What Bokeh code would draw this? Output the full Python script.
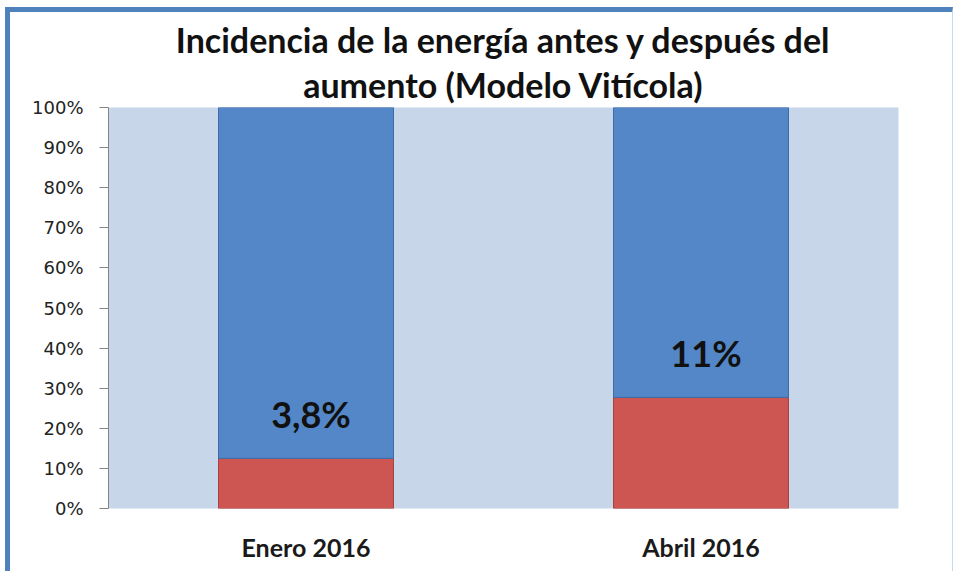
from bokeh.plotting import figure
from bokeh.models import ColumnDataSource, FactorRange, Range1d, FixedTicker, NumeralTickFormatter, Title
from bokeh.core.properties import value
from bokeh.embed import file_html
from bokeh.resources import INLINE

# ---- data ----
categories = ["Enero 2016", "Abril 2016"]
energia = [0.125, 0.277]          # red (lower) share
resto = [0.875, 0.723]            # blue (upper) share
data_labels = ["3,8%", "11%"]
y_ticks = [0.0, 0.1, 0.2, 0.3, 0.4, 0.5, 0.6, 0.7, 0.8, 0.9, 1.0]
title_lines = ["Incidencia de la energía antes y después del", "aumento (Modelo Vitícola)"]

src = ColumnDataSource(dict(cat=categories, energia=energia, resto=resto))

p = figure(
    x_range=FactorRange(*categories, range_padding=0),
    y_range=Range1d(0, 1),
    width=948, height=564,
    output_backend="svg", toolbar_location=None,
    min_border_left=98, min_border_right=60, min_border_top=95, min_border_bottom=68,
)
p.styles = {"margin-left": "5px", "margin-top": "7px",
            "border-left": "5px solid #4f81bd", "border-top": "5px solid #4f81bd",
            "border-right": "1px solid #c6d9f0"}

p.background_fill_color = "#c7d6e9"
p.border_fill_color = "white"
p.outline_line_color = None
p.xgrid.grid_line_color = None
p.ygrid.grid_line_color = None

p.vbar_stack(["energia", "resto"], x="cat", width=0.443, source=src,
             color=["#cd5552", "#5487c7"], line_color=["#a8423f", "#3e6ca6"], line_width=1)

label_y = [e + 0.11 for e in energia]
p.text(x=categories, y=label_y, text=data_labels, x_offset=5,
       text_font=value("Lato"), text_font_style="bold", text_font_size="36px",
       text_align="center", text_baseline="middle", text_color="#111111")

# y axis
p.yaxis.ticker = FixedTicker(ticks=y_ticks)
p.yaxis.formatter = NumeralTickFormatter(format="0%")
p.yaxis.axis_line_color = "#868686"
p.yaxis.major_tick_line_color = "#868686"
p.yaxis.major_tick_out = 9
p.yaxis.major_tick_in = 0
p.yaxis.minor_tick_line_color = None
p.yaxis.major_label_text_font = "DejaVu Sans"
p.yaxis.major_label_text_font_size = "18px"
p.yaxis.major_label_text_color = "#222222"
p.yaxis.major_label_standoff = 16

# x axis
p.xaxis.axis_line_color = None
p.xaxis.major_tick_line_color = None
p.xaxis.major_tick_out = 0
p.xaxis.major_label_text_font = "Lato"
p.xaxis.major_label_text_font_style = "bold"
p.xaxis.major_label_text_font_size = "25px"
p.xaxis.major_label_text_color = "#1a1a1a"
p.xaxis.major_label_standoff = 23

for i, line in enumerate(reversed(title_lines)):
    t = Title(text=line, align="center",
              text_font="Lato", text_font_style="bold", text_font_size="34px",
              text_color="#111111", standoff=5 if i == 0 else 0)
    p.add_layout(t, "above")

open("out.html", "w").write(file_html(p, INLINE))
